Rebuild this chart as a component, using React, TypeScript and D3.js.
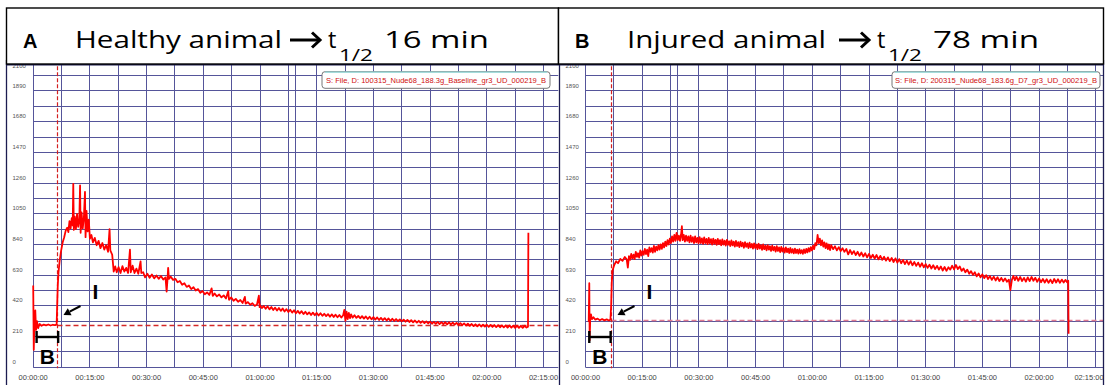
import React from "react";
import * as d3 from "d3";

// ---------- data ----------
const yTickValues = [0, 210, 420, 630, 840, 1050, 1260, 1470, 1680, 1890, 2100];
const xTickMinutes = [0, 15, 30, 45, 60, 75, 90, 105, 120, 135];
const xTickLabels = ["00:00:00", "00:15:00", "00:30:00", "00:45:00", "01:00:00", "01:15:00", "01:30:00", "01:45:00", "02:00:00", "02:15:00"];

const healthyLegend = "S: File, D: 100315_Nude68_188.3g_Baseline_gr3_UD_000219_B";
const injuredLegend = "S: File, D: 200315_Nude68_183.6g_D7_gr3_UD_000219_B";

// [minutes, value]
const healthySeries: [number, number][] = [
  [0.0, 560], [0.15, 120], [0.35, 330], [0.55, 390], [0.75, 255], [1.0, 315], [1.3, 268], [1.7, 296], [2.2, 284], [2.8, 292], [3.4, 287], [4.0, 293], [4.6, 286], [5.2, 291], [5.8, 288], [6.2, 292],
  [6.35, 430], [6.5, 560], [6.7, 650], [7.0, 730], [7.4, 800], [7.8, 855], [8.2, 890], [8.6, 935], [9.0, 955], [9.3, 925], [9.6, 1000], [9.9, 950], [10.2, 1020], [10.45, 970], [10.6, 1255], [10.75, 940], [11.0, 1030], [11.3, 945], [11.6, 1050], [11.9, 960], [12.2, 1010], [12.4, 1245], [12.55, 920], [12.8, 1060], [13.1, 950], [13.4, 1020], [13.7, 1200], [13.85, 890], [14.1, 1070], [14.4, 930], [14.7, 1010], [15.0, 880],
  [15.4, 905], [15.8, 855], [16.3, 885], [16.8, 835], [17.3, 865], [17.8, 815], [18.3, 850], [18.8, 805], [19.3, 835], [19.8, 790], [20.2, 945], [20.4, 800], [20.9, 770], [21.3, 655], [21.7, 690], [22.1, 650], [22.6, 685], [23.1, 645], [23.6, 692], [24.1, 655], [24.6, 680], [25.1, 645], [25.6, 805], [25.8, 650], [26.3, 695], [26.8, 645], [27.3, 675], [27.8, 640], [28.4, 725], [28.6, 645], [29.1, 650], [29.6, 615], [30.2, 640], [30.8, 612], [31.4, 635], [32.0, 608], [32.6, 628], [33.2, 605], [33.8, 625], [34.4, 600], [35.0, 615], [35.3, 518], [35.5, 590], [35.7, 680], [35.9, 605], [36.4, 620], [37.0, 598], [37.6, 605], [38.2, 582], [38.8, 590], [39.4, 565], [40.0, 575], [40.6, 550], [41.2, 560], [41.8, 535], [42.4, 548], [43.0, 525], [43.6, 535], [44.2, 510], [44.8, 522], [45.4, 500], [46.0, 512], [46.6, 495], [47.2, 540], [47.5, 488], [48.0, 505], [48.6, 485], [49.2, 498], [49.8, 478], [50.4, 492], [51.0, 470], [51.6, 520], [51.8, 462], [52.4, 478], [53.0, 455], [53.6, 468], [54.2, 448], [54.8, 460], [55.4, 440], [56.0, 482], [56.2, 435], [56.8, 446], [57.4, 428], [58.0, 438], [58.6, 420], [59.2, 430], [59.7, 490], [59.9, 412],
  [60.0, 425], [60.5, 405], [61.0, 420], [61.5, 400], [62.0, 418], [62.5, 396], [63.0, 412], [63.5, 392], [64.0, 408], [64.5, 388], [65.0, 406], [65.5, 386], [66.0, 402], [66.5, 382], [67.0, 398], [67.5, 378], [68.0, 394], [68.5, 374], [69.0, 390], [69.5, 370], [70.0, 386], [70.5, 368], [71.0, 384], [71.5, 364], [72.0, 380], [72.5, 362], [73.0, 376], [73.5, 358], [74.0, 374], [74.5, 356], [75.0, 372], [75.5, 354], [76.0, 370], [76.5, 352], [77.0, 366], [77.5, 350], [78.0, 364], [78.5, 346], [79.0, 362], [79.5, 344], [80.0, 360], [80.5, 342], [81.0, 358], [81.5, 340], [82.0, 356], [82.3, 392], [82.6, 318], [82.9, 380], [83.2, 330], [83.5, 372], [83.8, 336], [84.1, 362], [84.5, 340], [85.0, 356], [85.5, 338], [86.0, 352], [86.5, 335], [87.0, 350], [87.5, 333], [88.0, 348], [88.5, 330], [89.0, 346], [89.5, 328], [90.0, 343], [90.5, 326], [91.0, 341], [91.5, 324], [92.0, 338], [92.5, 322], [93.0, 336], [93.5, 320], [94.0, 334], [94.5, 318], [95.0, 332], [95.5, 317],
  [96.0, 330], [96.5, 316], [97.0, 328], [97.5, 314], [98.0, 326], [98.5, 312], [99.0, 324], [99.5, 310], [100.0, 322], [100.5, 308], [101.0, 320], [101.5, 306], [102.0, 318], [102.5, 304], [103.0, 316], [103.5, 302], [104.0, 314], [104.5, 300], [105.0, 312], [105.5, 298], [106.0, 311], [106.5, 297], [107.0, 310], [107.5, 296], [108.0, 309], [108.5, 295], [109.0, 309], [109.5, 294],
  [110.0, 308], [110.5, 294], [111.0, 306], [111.5, 292], [112.0, 304], [112.5, 290], [113.0, 302], [113.5, 288], [114.0, 300], [114.5, 286], [115.0, 298], [115.5, 284], [116.0, 296], [116.5, 282], [117.0, 294], [117.5, 280], [118.0, 293], [118.5, 279], [119.0, 292], [119.5, 278], [120.0, 291], [120.5, 277], [121.0, 290], [121.5, 276], [122.0, 289], [122.5, 275], [123.0, 288], [123.5, 274], [124.0, 287], [124.5, 273], [125.0, 286], [125.5, 272], [126.0, 286], [126.5, 271], [127.0, 285], [127.5, 270], [128.0, 285], [128.5, 270], [129.0, 284], [129.5, 270], [130.0, 284], [130.5, 272], [130.9, 278], [131.0, 920],
];

const injuredSeries: [number, number][] = [
  [0.85, 310], [1.0, 575], [1.1, 185], [1.25, 330], [1.45, 362], [1.7, 330], [2.1, 342], [2.6, 326], [3.2, 333], [3.8, 322], [4.4, 330], [5.0, 321], [5.6, 328], [6.2, 320], [6.6, 326],
  [6.8, 430], [6.95, 580], [7.2, 665], [7.6, 700], [8.1, 725], [8.6, 712], [9.2, 742], [9.8, 728], [10.4, 755], [10.9, 738], [11.2, 682],
  [11.5, 760], [11.8, 735], [12.1, 775], [12.4, 745], [12.7, 770], [13.0, 740], [13.3, 790], [13.6, 755], [13.9, 780], [14.2, 750], [14.5, 800], [14.8, 765], [15.1, 795], [15.4, 770], [15.7, 810], [16.0, 775], [16.3, 805], [16.6, 760], [16.9, 820], [17.2, 790], [17.5, 815], [17.8, 785], [18.1, 830], [18.4, 790], [18.7, 825], [19.0, 800], [19.3, 835], [19.6, 805], [19.9, 840], [20.2, 810], [20.5, 850], [20.8, 820], [21.1, 860], [21.4, 830], [21.7, 870], [22.0, 840], [22.3, 880], [22.6, 850], [22.9, 895], [23.2, 860], [23.5, 905], [23.8, 865], [24.1, 920], [24.4, 870], [24.7, 900], [25.0, 865], [25.3, 910], [25.5, 965], [25.7, 870], [26.0, 905], [26.3, 860], [26.6, 900], [26.9, 865], [27.2, 895], [27.5, 855], [27.8, 900], [28.1, 858], [28.4, 890], [28.7, 850], [29.0, 895], [29.3, 855], [29.6, 885], [29.9, 848],
  [30.2, 890], [30.5, 850], [30.8, 882], [31.1, 845], [31.4, 888], [31.7, 850], [32.0, 878], [32.3, 842], [32.6, 885], [32.9, 848], [33.2, 876], [33.5, 840], [33.8, 880], [34.1, 845], [34.4, 872], [34.7, 838], [35.0, 878], [35.3, 842], [35.6, 870], [35.9, 835], [36.2, 875], [36.5, 840], [36.8, 866], [37.1, 832], [37.4, 872], [37.7, 838], [38.0, 862], [38.3, 830], [38.6, 868], [38.9, 834], [39.2, 860], [39.5, 826], [39.8, 864], [40.1, 830], [40.4, 856], [40.7, 822], [41.0, 860], [41.3, 828], [41.6, 852], [41.9, 818], [42.2, 856], [42.5, 824], [42.8, 848], [43.1, 815], [43.4, 852], [43.7, 820], [44.0, 844], [44.3, 812], [44.6, 848], [44.9, 816],
  [45.2, 840], [45.5, 808], [45.8, 845], [46.1, 812], [46.4, 836], [46.7, 804], [47.0, 840], [47.3, 808], [47.6, 832], [47.9, 800], [48.2, 836], [48.5, 805], [48.8, 828], [49.1, 796], [49.4, 832], [49.7, 800], [50.0, 824], [50.3, 792], [50.6, 828], [50.9, 796], [51.2, 820], [51.5, 788], [51.8, 824], [52.1, 792], [52.4, 816], [52.7, 785], [53.0, 820], [53.3, 788], [53.6, 812], [53.9, 782], [54.2, 816], [54.5, 784], [54.8, 808], [55.1, 780], [55.4, 812], [55.7, 782], [56.0, 805], [56.3, 778], [56.6, 808], [56.9, 780], [57.2, 802], [57.5, 776], [57.8, 806], [58.1, 782], [58.4, 810], [58.7, 786], [59.0, 815], [59.3, 792], [59.6, 822], [59.9, 800],
  [60.2, 832], [60.5, 808], [60.8, 850], [61.1, 835], [61.4, 905], [61.7, 850], [62.0, 880], [62.3, 835], [62.6, 868], [62.9, 825], [63.2, 855], [63.5, 815], [63.8, 848], [64.1, 808], [64.4, 840], [64.7, 802],
  [65.0, 835], [65.5, 808], [66.0, 828], [66.5, 800], [67.0, 822], [67.5, 795], [68.0, 815], [68.5, 790], [69.0, 810], [69.5, 772], [70.0, 802], [70.5, 775], [71.0, 795], [71.5, 768], [72.0, 790], [72.5, 762], [73.0, 785], [73.5, 758], [74.0, 780], [74.5, 752], [75.0, 776], [75.5, 748], [76.0, 770], [76.5, 744], [77.0, 768], [77.5, 738], [78.0, 762], [78.5, 735], [79.0, 756], [79.5, 730], [80.0, 752], [80.5, 726], [81.0, 748], [81.5, 720], [82.0, 745], [82.5, 716], [83.0, 740], [83.5, 712], [84.0, 735], [84.5, 706], [85.0, 730], [85.5, 702], [86.0, 726], [86.5, 698], [87.0, 720], [87.5, 694], [88.0, 716], [88.5, 688], [89.0, 712], [89.5, 684],
  [90.0, 706], [90.5, 680], [91.0, 702], [91.5, 676], [92.0, 698], [92.5, 672], [93.0, 694], [93.5, 668], [94.0, 690], [94.5, 662], [95.0, 686], [95.5, 660], [96.0, 684], [96.5, 668], [97.0, 695], [97.5, 670], [98.0, 700], [98.5, 672], [99.0, 690], [99.5, 660], [100.0, 676], [100.5, 650], [101.0, 668], [101.5, 640], [102.0, 658], [102.5, 632], [103.0, 650], [103.5, 622], [104.0, 642], [104.5, 615], [105.0, 636], [105.5, 610], [106.0, 630], [106.5, 604], [107.0, 624], [107.5, 598], [108.0, 620], [108.5, 594], [109.0, 616], [109.5, 590],
  [110.0, 612], [110.5, 588], [111.0, 608], [111.5, 585], [112.0, 600], [112.4, 528], [112.8, 598], [113.2, 625], [113.6, 596], [114.0, 620], [114.5, 592], [115.0, 618], [115.5, 590], [116.0, 612], [116.5, 586], [117.0, 615], [117.5, 590], [118.0, 618], [118.5, 592], [119.0, 612], [119.5, 585], [120.0, 608], [120.5, 582], [121.0, 604], [121.5, 580], [122.0, 602], [122.5, 578], [123.0, 600], [123.5, 576], [124.0, 604], [124.5, 580], [125.0, 602], [125.5, 578], [126.0, 600], [126.5, 580], [127.0, 598], [127.4, 582], [127.7, 592], [127.8, 230],
];

// event / reference lines
const healthyInjection = 6.3;
const injuredInjection = 6.75;
const healthyBaseline = 289;
const injuredBaseline = 323;
const healthyMarker = 69.4;
const injuredMarker = 24.4;
const healthyBracket: [number, number] = [0.9, 6.6];
const injuredBracket: [number, number] = [1.0, 6.65];

// ---------- styling / layout ----------
const GRID = "#55559a";
const FRAME = "#1c1c50";
const RED = "#ff0000";
const PX_PER_MIN = 3.78;
const Y_TOP = 60.3;
const Y_BOTTOM = 367.3;
const snap = (v: number) => Math.round(v - 0.5) + 0.5;

interface PanelProps {
  id: string;
  frameL: number;
  frameR: number;
  zeroX: number;
  series: [number, number][];
  injection: number;
  baseline: number;
  baselineColor: string;
  marker: number;
  bracket: [number, number];
  legend: string;
  legendBox: [number, number];
  legendTextLen: number;
}

function Panel(p: PanelProps) {
  const x = d3.scaleLinear().domain([0, 135]).range([p.zeroX, p.zeroX + 135 * PX_PER_MIN]);
  const y = d3.scaleLinear().domain([0, 2100]).range([Y_BOTTOM, Y_TOP]);
  const maxT = x.invert(p.frameR);
  const vGrid = d3.range(0, maxT, 7.5);
  const hGrid = d3.range(0, 2101, 105);
  const line = d3.line<[number, number]>().x((d) => x(d[0])).y((d) => y(d[1]));
  const injX = snap(x(p.injection));
  const bx0 = x(p.bracket[0]);
  const bx1 = x(p.bracket[1]);
  const bY = 337;
  // arrow pointing at injection onset
  const ax1 = injX + 23, ay1 = 306;
  const ax2 = injX + 6, ay2 = 315;
  const ang = Math.atan2(ay2 - ay1, ax2 - ax1);
  const hl = 7, hw = 4;
  const hx = ax2 - hl * Math.cos(ang), hy = ay2 - hl * Math.sin(ang);
  const head = `M${ax2},${ay2} L${hx - hw * Math.sin(ang)},${hy + hw * Math.cos(ang)} L${hx + hw * Math.sin(ang)},${hy - hw * Math.cos(ang)} Z`;

  return (
    <g>
      <defs>
        <clipPath id={`clip-${p.id}`}>
          <rect x={p.frameL} y={Y_TOP} width={p.frameR - p.frameL} height={Y_BOTTOM - Y_TOP + 1} />
        </clipPath>
      </defs>
      <rect x={p.frameL} y={56} width={p.frameR - p.frameL} height={385 - 56} fill="#fff" />
      <g clipPath={`url(#clip-${p.id})`}>
        {hGrid.map((v) => (
          <line key={`h${v}`} x1={p.zeroX} x2={p.frameR} y1={snap(y(v))} y2={snap(y(v))} stroke={GRID} strokeWidth={1} />
        ))}
        {vGrid.map((t) => (
          <line key={`v${t}`} x1={snap(x(t))} x2={snap(x(t))} y1={Y_TOP} y2={Y_BOTTOM} stroke={GRID} strokeWidth={1} />
        ))}
        <line x1={snap(x(p.marker))} x2={snap(x(p.marker))} y1={Y_TOP} y2={Y_BOTTOM} stroke={GRID} strokeWidth={1} />
        <line x1={injX} x2={p.frameR} y1={snap(y(p.baseline))} y2={snap(y(p.baseline))} stroke={p.baselineColor} strokeWidth={1.3} strokeDasharray="5,3" />
        <line x1={injX} x2={injX} y1={Y_TOP} y2={Y_BOTTOM + 2} stroke="#d42020" strokeWidth={1.2} strokeDasharray="4,2" />
        <path d={line(p.series) || ""} fill="none" stroke={RED} strokeWidth={1.8} strokeLinejoin="round" />
      </g>
      {/* y labels */}
      {yTickValues.map((v) => (
        <text key={`yl${v}`} x={p.frameL + 6} y={v === 2100 ? 67.5 : y(v) - 3.5} fontSize={6} fill="#555" fontFamily="Liberation Sans, Arial, sans-serif">
          {v}
        </text>
      ))}
      {/* x labels */}
      {xTickMinutes.map((t, i) => (
        <text key={`xl${t}`} x={Math.min(x(t), 1089)} y={379.5} fontSize={7.5} fill="#444" textAnchor="middle" fontFamily="Liberation Sans, Arial, sans-serif">
          {xTickLabels[i]}
        </text>
      ))}
      {/* legend box */}
      <rect x={p.legendBox[0]} y={71.7} width={p.legendBox[1] - p.legendBox[0]} height={16.6} rx={3} fill="#fff" stroke="#777" strokeWidth={1} />
      <line x1={p.legendBox[0] + 3} x2={p.legendBox[1] - 3} y1={72.2} y2={72.2} stroke="#8fd8d8" strokeWidth={1.2} />
      <text x={(p.legendBox[0] + p.legendBox[1]) / 2} y={82.8} fontSize={7.5} fill="#d01010" textAnchor="middle" textLength={p.legendTextLen} lengthAdjust="spacingAndGlyphs" fontFamily="Liberation Sans, Arial, sans-serif">
        {p.legend}
      </text>
      {/* B bracket */}
      <g stroke="#000" strokeWidth={2.4}>
        <line x1={bx0} x2={bx1} y1={bY} y2={bY} />
        <line x1={bx0} x2={bx0} y1={bY - 6} y2={bY + 6} />
        <line x1={bx1} x2={bx1} y1={bY - 6} y2={bY + 6} />
      </g>
      <text x={(bx0 + bx1) / 2} y={364} fontSize={21} fontWeight="bold" textAnchor="middle" fontFamily="Liberation Sans, Arial, sans-serif">B</text>
      <text x={injX + 38} y={298.5} fontSize={21} fontWeight="bold" textAnchor="middle" fontFamily="Liberation Sans, Arial, sans-serif">I</text>
      <line x1={ax1} y1={ay1} x2={hx} y2={hy} stroke="#000" strokeWidth={2} />
      <path d={head} fill="#000" />
      {/* frame */}
      <line x1={p.frameL} x2={p.frameL} y1={60} y2={385} stroke={FRAME} strokeWidth={1.3} />
    </g>
  );
}

function Header({ x0, x1, letter, text, textLen, arrowX, tX, subX, tail, tailLen }: any) {
  const fam = "'Open Sans', 'Noto Sans', sans-serif";
  return (
    <g>
      <rect x={x0} y={8} width={x1 - x0} height={56} fill="#fff" stroke="#000" strokeWidth={1.4} />
      <text x={x0 + 16.5} y={48} fontSize={20} fontWeight="bold" fontFamily="Liberation Sans, Arial, sans-serif">{letter}</text>
      <text x={x0 + 68.5} y={48} fontSize={23.5} fontFamily={fam} textLength={textLen} lengthAdjust="spacingAndGlyphs">{text}</text>
      <g stroke="#000" strokeWidth={3} fill="none" strokeLinejoin="miter">
        <line x1={arrowX} x2={arrowX + 29} y1={40} y2={40} />
        <path d={`M${arrowX + 22},${32.5} L${arrowX + 30},${40} L${arrowX + 22},${47.5}`} />
      </g>
      <text x={tX} y={48} fontSize={23.5} fontFamily={fam}>t</text>
      <text x={subX} y={60.5} fontSize={16} fontFamily={fam} textLength={34} lengthAdjust="spacingAndGlyphs">1/2</text>
      <text x={subX + 45} y={48} fontSize={23.5} fontFamily={fam} textLength={tailLen} lengthAdjust="spacingAndGlyphs">{tail}</text>
    </g>
  );
}

export default function App() {
  return (
    <svg width={1106} height={385} style={{ position: "absolute", left: 0, top: 0, background: "#fff" }}>
      <rect x={0} y={0} width={1106} height={385} fill="#fff" />
      <Panel
        id="a"
        frameL={6.5}
        frameR={558.5}
        zeroX={33.2}
        series={healthySeries}
        injection={healthyInjection}
        baseline={healthyBaseline}
        baselineColor="#d42828"
        marker={healthyMarker}
        bracket={healthyBracket}
        legend={healthyLegend}
        legendBox={[322, 550]}
        legendTextLen={220}
      />
      <Panel
        id="b"
        frameL={559.5}
        frameR={1103.5}
        zeroX={585.5}
        series={injuredSeries}
        injection={injuredInjection}
        baseline={injuredBaseline}
        baselineColor="#e07a90"
        marker={injuredMarker}
        bracket={injuredBracket}
        legend={injuredLegend}
        legendBox={[892, 1100]}
        legendTextLen={202}
      />
      <line x1={1103.5} x2={1103.5} y1={60} y2={385} stroke={FRAME} strokeWidth={1.3} />
      <line x1={6.5} x2={1103.5} y1={64.5} y2={64.5} stroke={FRAME} strokeWidth={2} />
      <Header x0={6.5} x1={558.5} letter="A" text="Healthy animal" textLen={207} arrowX={290} tX={328} subX={339} tail="16 min" tailLen={105} />
      <Header x0={558.5} x1={1103.5} letter="B" text="Injured animal" textLen={199} arrowX={839} tX={877} subX={888} tail="78 min" tailLen={106} />
    </svg>
  );
}
